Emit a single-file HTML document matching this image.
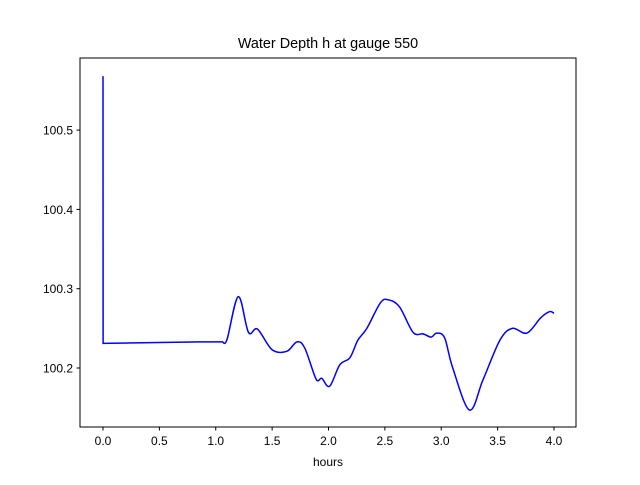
<!DOCTYPE html>
<html><head><meta charset="utf-8"><style>
body{margin:0;background:#fff;}
svg text{font-family:"Liberation Sans","DejaVu Sans",sans-serif;font-size:12px;fill:#000;}
</style></head><body>
<svg width="640" height="480">
<rect width="640" height="480" fill="#fff"/>
<text x="328" y="48" text-anchor="middle" style="font-size:14.4px">Water Depth h at gauge 550</text>
<g id="ax"></g>
<path id="line" fill="none" stroke="#0000ff" stroke-width="1.5"/>
<rect x="80" y="58" width="496" height="369" fill="none" stroke="#000" stroke-width="1"/>
<text x="328" y="466" text-anchor="middle">hours</text>
</svg>
<script>
const times=[0,0.001,0.86,1.06,1.10,1.20,1.29,1.37,1.50,1.63,1.72,1.79,1.89,1.94,2.01,2.10,2.19,2.26,2.34,2.46,2.53,2.63,2.75,2.84,2.91,2.96,3.03,3.10,3.25,3.37,3.52,3.63,3.76,3.88,3.96,4.00];
const depths=[100.568,100.231,100.233,100.233,100.236,100.290,100.245,100.249,100.223,100.221,100.233,100.225,100.186,100.187,100.177,100.204,100.213,100.235,100.250,100.282,100.286,100.277,100.245,100.243,100.239,100.244,100.238,100.201,100.147,100.185,100.235,100.250,100.244,100.263,100.271,100.269];
const xTicks=["0.0","0.5","1.0","1.5","2.0","2.5","3.0","3.5","4.0"];
const yTicks=["100.2","100.3","100.4","100.5"];
const X=t=>103+t*112.75;
const Y=v=>368-(v-100.2)*793;
const ns="http://www.w3.org/2000/svg";
const ax=document.getElementById('ax');
xTicks.forEach(s=>{const x=X(parseFloat(s));
 const l=document.createElementNS(ns,'line');l.setAttribute('x1',x);l.setAttribute('x2',x);l.setAttribute('y1',427);l.setAttribute('y2',430.5);l.setAttribute('stroke','#000');
 
 ax.appendChild(l);
 const t=document.createElementNS(ns,'text');t.setAttribute('x',x);t.setAttribute('y',445);t.setAttribute('text-anchor','middle');t.textContent=s;
 
 ax.appendChild(t);});
yTicks.forEach(s=>{const y=Y(parseFloat(s));
 const l=document.createElementNS(ns,'line');l.setAttribute('x1',76.5);l.setAttribute('x2',80);l.setAttribute('y1',y);l.setAttribute('y2',y);l.setAttribute('stroke','#000');
 
 ax.appendChild(l);
 const t=document.createElementNS(ns,'text');t.setAttribute('x',73);t.setAttribute('y',y+4.5);t.setAttribute('text-anchor','end');t.textContent=s;
 
 ax.appendChild(t);});
const P=times.map((t,i)=>[X(t),Y(depths[i])]);
let d=`M${P[0][0]},${P[0][1]} L${P[1][0]},${P[1][1]} L${P[2][0]},${P[2][1]} L${P[3][0]},${P[3][1]}`;
for(let i=3;i<P.length-1;i++){const p0=P[Math.max(3,i-1)],p1=P[i],p2=P[i+1],p3=P[Math.min(P.length-1,i+2)];
 const c1=[p1[0]+(p2[0]-p0[0])/6,p1[1]+(p2[1]-p0[1])/6],c2=[p2[0]-(p3[0]-p1[0])/6,p2[1]-(p3[1]-p1[1])/6];
 d+=` C${c1[0]},${c1[1]} ${c2[0]},${c2[1]} ${p2[0]},${p2[1]}`;}
document.getElementById('line').setAttribute('d',d);
</script>
</body></html>
